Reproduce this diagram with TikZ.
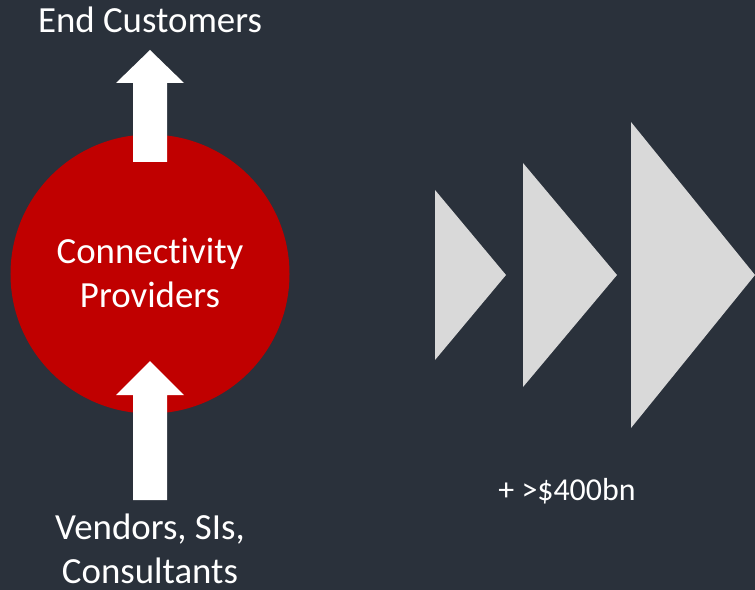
\documentclass[tikz,border=0pt]{standalone}
\usepackage{fontspec}
\setmainfont{Carlito}[Ligatures=NoCommon]
\definecolor{slate}{HTML}{2A313B}
\definecolor{provred}{HTML}{C00000}
\definecolor{chevgray}{HTML}{D9D9D9}
\begin{document}
\begin{tikzpicture}[x=1bp,y=-1bp,
	lbl/.style={text=white,align=center,inner sep=0pt,font=\fontsize{37}{44}\selectfont},
	blockarrow/.style={fill=white}]
		\fill[slate] (0,0) rectangle (755,590);
		\useasboundingbox (0,0) rectangle (755,590);
		\node[circle,fill=provred,minimum size=279bp,inner sep=0pt] (prov) at (150,274) {};
		\fill[blockarrow] (133,162) -- (133,83) -- (116,83) -- (150,50) -- (184,83) -- (167,83) -- (167,162) -- cycle;
		\fill[blockarrow] (133,500) -- (133,395) -- (116,395) -- (150,361) -- (184,395) -- (167,395) -- (167,500) -- cycle;
		\node[lbl,anchor=base] (cust) at (150,33) {End Customers};
		\node[lbl,anchor=base] (provtext) at (150,307) {Connectivity\\Providers};
		\node[lbl,anchor=base] (vend) at (150,583) {Vendors, SIs,\\Consultants};
		\foreach \xa/\xb/\h in {435/506/85, 523/617/112, 631/755/153}
			\fill[chevgray] (\xa,275-\h) -- (\xb,275) -- (\xa,275+\h) -- cycle;
		\node[lbl,anchor=base,font=\fontsize{32}{38}\selectfont] (value) at (567,500) {+ >\$400bn};
		\end{tikzpicture}
\end{document}
